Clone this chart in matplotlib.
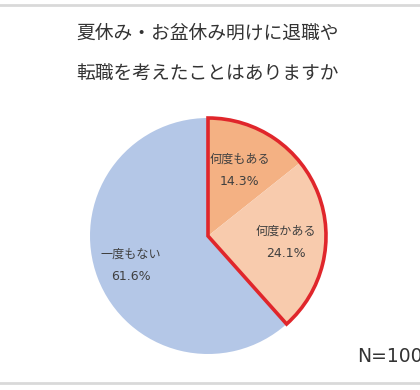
import numpy as np
import matplotlib
matplotlib.use("Agg")
import matplotlib.pyplot as plt
from matplotlib.patches import Wedge

plt.rcParams['font.family'] = ['Noto Sans CJK JP', 'DejaVu Sans']

labels = ["何度もある", "何度かある", "一度もない"]
values = [14.3, 24.1, 61.6]
colors = ["#F4B183", "#F8CBAD", "#B4C7E7"]
label_dist = [0.62, 0.66, 0.70]
title = "夏休み・お盆休み明けに退職や\n転職を考えたことはありますか"

W, H = 420, 390
fig = plt.figure(figsize=(W / 100, H / 100), dpi=100)
ax = fig.add_axes([0, 0, 1, 1])

cx, cy, r = 208, H - 236, 118
wedges, _ = ax.pie(values, colors=colors, startangle=90, counterclock=False,
                   center=(cx, cy), radius=r, frame=True,
                   wedgeprops=dict(linewidth=0))
ax.set_xlim(0, W)
ax.set_ylim(0, H)
ax.set_aspect("equal")
ax.axis("off")

# labels inside slices
start = 90
for lab, v, d in zip(labels, values, label_dist):
    mid = np.deg2rad(start - v * 3.6 / 2)
    start -= v * 3.6
    x = cx + d * r * np.cos(mid)
    y = cy + d * r * np.sin(mid)
    ax.text(x, y + 11, lab, ha="center", va="center",
            fontsize=8.7, color="#404040")
    ax.text(x, y - 11, f"{v:.1f}%", ha="center", va="center",
            fontsize=9, color="#404040", family=['DejaVu Sans'])

# red outline around the "has considered" slices
sel = values[0] + values[1]
ax.add_patch(Wedge((cx, cy), r, 90 - sel * 3.6, 90, fill=False,
                   edgecolor="#E0262B", linewidth=2.6, joinstyle="miter"))

fig.text(0.495, 1 - 53 / H, title, ha="center", va="center", fontsize=13.5,
         color="#333333", linespacing=2.2)
fig.text(357 / W, 1 - 357 / H, "N=100", ha="left", va="center",
         fontsize=13.5, color="#333333", family=['DejaVu Sans'])

# thin gray frame lines top/bottom
ax.axhline(H - 5, color="#D9D9D9", linewidth=2)
ax.axhline(H - 383, color="#D9D9D9", linewidth=2)

fig.savefig("out.png", dpi=100)
